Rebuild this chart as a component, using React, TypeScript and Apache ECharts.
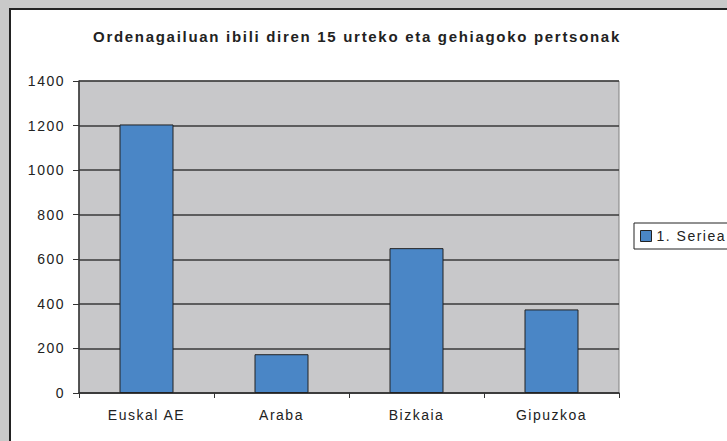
import React, { useEffect, useRef } from "react";
import * as echarts from "echarts";

const titleText = "Ordenagailuan ibili diren 15 urteko eta gehiagoko pertsonak";
const categories = ["Euskal AE", "Araba", "Bizkaia", "Gipuzkoa"];
const seriesName = "1. Seriea";
const values = [1205, 174, 650, 375];
const yMin = 0;
const yMax = 1400;
const yInterval = 200;

const FONT = "'Liberation Sans', Arial, sans-serif";

export default function App() {
  const ref = useRef<HTMLDivElement>(null);
  useEffect(() => {
    document.body.style.margin = "0";
    const el = ref.current!;
    const chart = echarts.init(el, null, { renderer: "svg" });
    chart.setOption({
      animation: false,
      backgroundColor: "#c9c9c9",
      graphic: [
        {
          type: "rect",
          z: -10,
          shape: { x: 10, y: 9, width: 760, height: 460 },
          style: { fill: "#ffffff", stroke: "#222222", lineWidth: 2 },
        },
        {
          type: "text",
          x: 357,
          y: 36,
          style: {
            text: titleText,
            fill: "#222222",
            font: `bold 15px ${FONT}`,
            textAlign: "center",
            textVerticalAlign: "middle",
          },
        },
      ],
      legend: {
        left: 634,
        top: 223,
        orient: "vertical",
        padding: [6, 24, 6, 6],
        borderColor: "#222222",
        borderWidth: 1,
        backgroundColor: "#ffffff",
        itemWidth: 11,
        itemHeight: 11,
        icon: "rect",
        itemStyle: { borderColor: "#222222", borderWidth: 1 },
        textStyle: { fontFamily: FONT, fontSize: 14, color: "#222222", padding: [0, 0, 0, 0] },
        data: [seriesName],
      },
      grid: {
        left: 79,
        top: 81,
        right: 108,
        bottom: 48,
        show: true,
        backgroundColor: "#c8c8ca",
        borderColor: "#808080",
        borderWidth: 1,
      },
      xAxis: {
        type: "category",
        data: categories,
        axisLine: { show: true, lineStyle: { color: "#333333", width: 1.5 } },
        axisTick: { show: true, alignWithLabel: false, length: 5, lineStyle: { color: "#333333" } },
        axisLabel: { fontFamily: FONT, fontSize: 14, color: "#222222", margin: 15 },
        splitLine: { show: false },
      },
      yAxis: {
        type: "value",
        min: yMin,
        max: yMax,
        interval: yInterval,
        axisLine: { show: true, lineStyle: { color: "#333333", width: 1.5 } },
        axisTick: { show: true, length: 6, lineStyle: { color: "#333333" } },
        axisLabel: {
          fontFamily: FONT,
          fontSize: 14,
          color: "#222222",
          margin: 14,
          formatter: (v: number) => String(v),
        },
        splitLine: { show: true, lineStyle: { color: "#3a3a3a", width: 1.5 } },
      },
      series: [
        {
          name: seriesName,
          type: "bar",
          data: values,
          barWidth: "40%",
          itemStyle: { color: "#4a86c6", borderColor: "#222222", borderWidth: 1 },
        },
      ],
    });
    el.querySelectorAll("text").forEach((t) => {
      const s = (t as SVGTextElement).style;
      s.letterSpacing = (t.textContent || "").startsWith("Ordena") ? "1.7px" : "1.5px";
    });
    return () => chart.dispose();
  }, []);
  return <div ref={ref} style={{ position: "fixed", left: 0, top: 0, width: 727, height: 441 }} />;
}
